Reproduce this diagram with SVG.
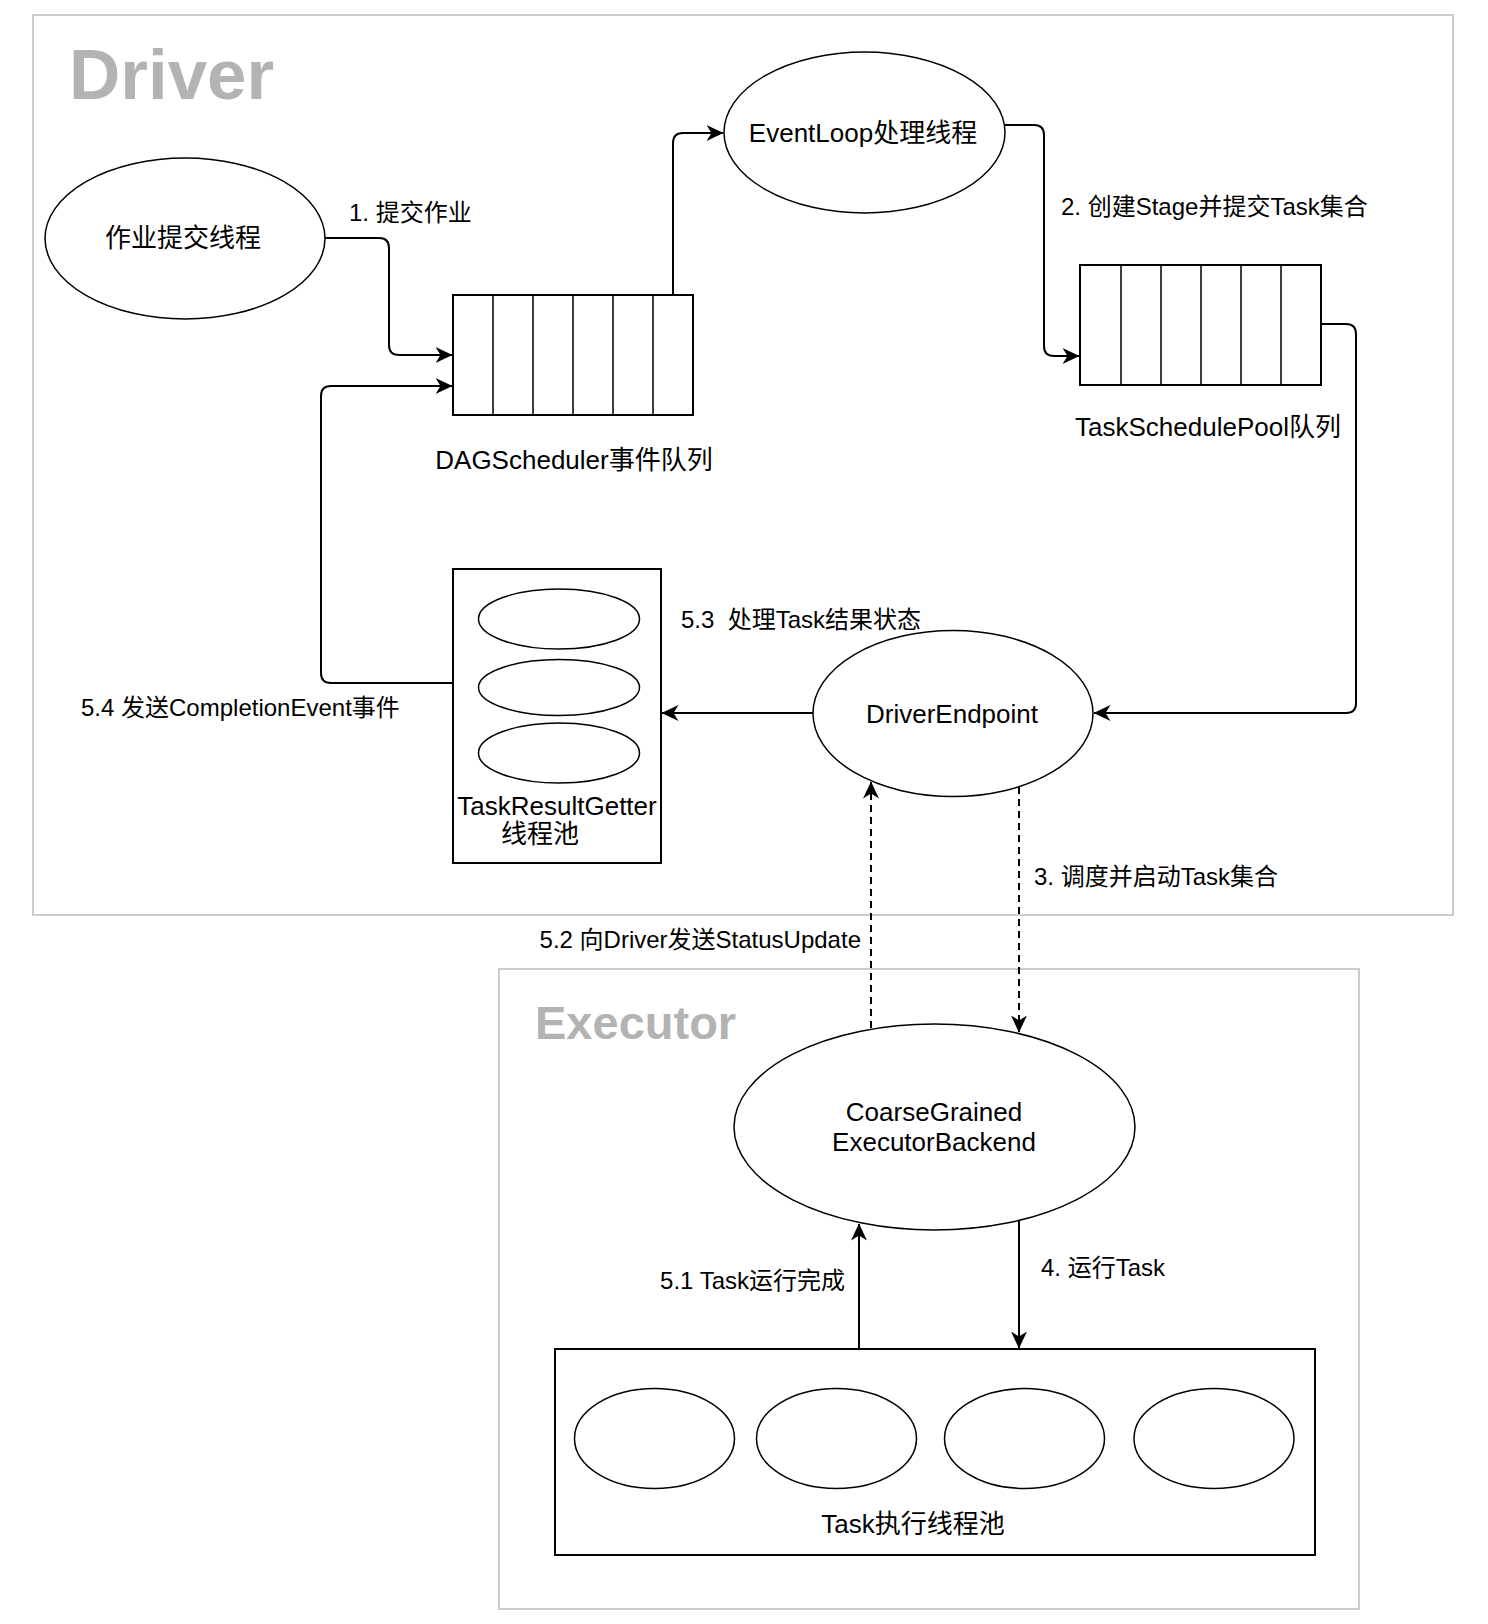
<svg xmlns="http://www.w3.org/2000/svg" width="1488" height="1624" viewBox="0 0 1488 1624">
<style>
.bg{fill:#ffffff}
.container{fill:#ffffff;stroke:#cccccc;stroke-width:2}
.title{font-family:"Liberation Sans",Arial,sans-serif;font-weight:bold;fill:#b3b3b3}
.node{fill:#ffffff;stroke:#000000;stroke-width:1.5}
.box{fill:#ffffff;stroke:#000000;stroke-width:2}
.cell{stroke:#000000;stroke-width:1.5;fill:none}
.lbl{font-family:"Liberation Sans","Noto Sans CJK SC",sans-serif;font-size:26px;fill:#000000}
.elbl{font-family:"Liberation Sans","Noto Sans CJK SC",sans-serif;font-size:24px;fill:#000000}
.edge{fill:none;stroke:#000000;stroke-width:2}
.dash{stroke-dasharray:7 5}
</style>
<defs>
<marker id="arrow" viewBox="0 0 17 16" markerUnits="userSpaceOnUse" markerWidth="17" markerHeight="16" refX="16.5" refY="8" orient="auto">
<path d="M0,0 L17,8 L0,16 L5,8 Z" fill="#000000"/>
</marker>
</defs>
<rect class="bg" x="0" y="0" width="1488" height="1624"/>

<g id="driver">
<rect class="container" x="33" y="15" width="1420" height="900"/>
<text class="title" x="69" y="99" font-size="71">Driver</text>
</g>
<g id="executor">
<rect class="container" x="499" y="969" width="860" height="640"/>
<text class="title" x="535" y="1039" font-size="47">Executor</text>
</g>

<g id="job-submit-thread">
<ellipse class="node" cx="185" cy="238.5" rx="140" ry="80.5"/>
<text class="lbl" x="183" y="247" text-anchor="middle">作业提交线程</text>
</g>

<g id="dag-queue">
<rect class="box" x="453" y="295" width="240" height="120"/>
<path class="cell" d="M493,295V415M533,295V415M573,295V415M613,295V415M653,295V415"/>
<text class="lbl" x="574" y="469" text-anchor="middle">DAGScheduler事件队列</text>
</g>

<g id="eventloop">
<ellipse class="node" cx="864.5" cy="132.5" rx="140.5" ry="80.5"/>
<text class="lbl" x="863" y="142" text-anchor="middle">EventLoop处理线程</text>
</g>

<g id="task-schedule-pool">
<rect class="box" x="1080" y="265" width="241" height="120"/>
<path class="cell" d="M1121,265V385M1161,265V385M1201,265V385M1241,265V385M1281,265V385"/>
<text class="lbl" x="1208" y="436" text-anchor="middle">TaskSchedulePool队列</text>
</g>

<g id="driver-endpoint">
<ellipse class="node" cx="953" cy="713.5" rx="140" ry="83"/>
<text class="lbl" x="952" y="723" text-anchor="middle">DriverEndpoint</text>
</g>

<g id="task-result-getter">
<rect class="box" x="453" y="569" width="208" height="294"/>
<ellipse class="node" cx="559" cy="619" rx="80.5" ry="30"/>
<ellipse class="node" cx="559" cy="687.5" rx="80.5" ry="28"/>
<ellipse class="node" cx="559" cy="753" rx="80.5" ry="30"/>
<text class="lbl" x="557" y="815" text-anchor="middle">TaskResultGetter</text>
<text class="lbl" x="540" y="843" text-anchor="middle">线程池</text>
</g>

<g id="coarse-grained-executor-backend">
<ellipse class="node" cx="934.5" cy="1127" rx="200.5" ry="103"/>
<text class="lbl" x="934" y="1121" text-anchor="middle">CoarseGrained</text>
<text class="lbl" x="934" y="1151" text-anchor="middle">ExecutorBackend</text>
</g>

<g id="task-exec-pool">
<rect class="box" x="555" y="1349" width="760" height="206"/>
<ellipse class="node" cx="654.5" cy="1438.5" rx="80" ry="50"/>
<ellipse class="node" cx="836.5" cy="1438.5" rx="80" ry="50"/>
<ellipse class="node" cx="1024.5" cy="1438.5" rx="80" ry="50"/>
<ellipse class="node" cx="1214" cy="1438.5" rx="80" ry="50"/>
<text class="lbl" x="913" y="1533" text-anchor="middle">Task执行线程池</text>
</g>

<g id="connectors">
<path class="edge" d="M325,238 H379 Q389,238 389,248 V345 Q389,355 399,355 H452" marker-end="url(#arrow)"/>
<path class="edge" d="M673,295 V143 Q673,133 683,133 H723" marker-end="url(#arrow)"/>
<path class="edge" d="M1005,125 H1034 Q1044,125 1044,135 V346 Q1044,356 1054,356 H1079" marker-end="url(#arrow)"/>
<path class="edge" d="M1321,324 H1346 Q1356,324 1356,334 V703 Q1356,713 1346,713 H1094" marker-end="url(#arrow)"/>
<path class="edge" d="M813,713 H662" marker-end="url(#arrow)"/>
<path class="edge" d="M453,683 H331 Q321,683 321,673 V396 Q321,386 331,386 H452" marker-end="url(#arrow)"/>
<path class="edge dash" d="M1019,787 V1032" marker-end="url(#arrow)"/>
<path class="edge dash" d="M871,1028 V782" marker-end="url(#arrow)"/>
<path class="edge" d="M1019,1220 V1348" marker-end="url(#arrow)"/>
<path class="edge" d="M859,1349 V1224" marker-end="url(#arrow)"/>

<text class="elbl" x="349" y="221">1. 提交作业</text>
<text class="elbl" x="1061" y="215">2. 创建Stage并提交Task集合</text>
<text class="elbl" x="681" y="628">5.3&#160; 处理Task结果状态</text>
<text class="elbl" x="81" y="716">5.4 发送CompletionEvent事件</text>
<text class="elbl" x="1034" y="885">3. 调度并启动Task集合</text>
<text class="elbl" x="861" y="948" text-anchor="end">5.2 向Driver发送StatusUpdate</text>
<text class="elbl" x="845" y="1289" text-anchor="end">5.1 Task运行完成</text>
<text class="elbl" x="1041" y="1276">4. 运行Task</text>
</g>
</svg>
